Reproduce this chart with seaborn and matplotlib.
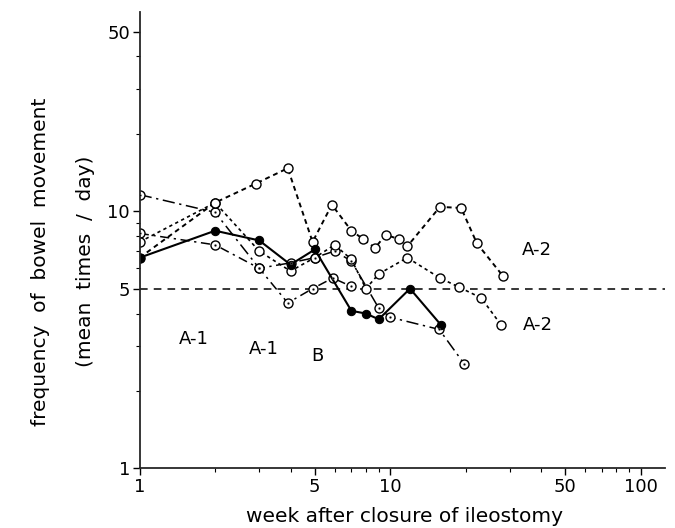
import matplotlib
matplotlib.use('Agg')
import matplotlib.pyplot as plt
import matplotlib.ticker as mticker
import numpy as np
import pandas as pd
import seaborn as sns

# weeks / frequency (log-log)
solid_x = [1, 2, 3, 4, 5, 7, 8, 9, 12, 16]
solid_y = [6.6, 8.4, 7.7, 6.2, 7.1, 4.1, 4.0, 3.8, 5.0, 3.6]

a2_top_x = [1, 2, 2.9, 3.9, 4.9, 5.85, 7, 7.8, 8.7, 9.6, 10.8, 11.7, 15.8, 19.2, 22.2, 28.2]
a2_top_y = [6.6, 10.8, 12.8, 14.7, 7.6, 10.6, 8.4, 7.8, 7.2, 8.1, 7.8, 7.3, 10.4, 10.3, 7.5, 5.6]

a2_low_x = [1, 2, 3, 4, 5, 6, 7, 8, 9, 11.7, 15.8, 18.9, 23.1, 27.8]
a2_low_y = [7.6, 10.8, 7.0, 5.85, 6.6, 7.4, 6.5, 5.0, 5.7, 6.6, 5.5, 5.06, 4.6, 3.6]

dd1_x = [1, 2, 3, 4, 5, 6, 7, 9, 10, 15.7, 19.8]
dd1_y = [11.6, 9.9, 6.0, 6.3, 6.6, 7.0, 6.4, 4.2, 3.87, 3.47, 2.54]

dd2_x = [1, 2, 3, 3.9, 4.9, 5.9, 7]
dd2_y = [8.2, 7.4, 6.0, 4.4, 5.0, 5.5, 5.1]

labels = ['A-1', 'A-1', 'B', 'A-2', 'A-2']
label_x = [1.64, 3.14, 5.1, 38.5, 39.0]
label_y = [3.18, 2.9, 2.73, 7.06, 3.6]

sns.set_style('ticks')
plt.rcParams['font.family'] = ['DejaVu Sans']
plt.rcParams['text.color'] = 'k'
plt.rcParams['xtick.color'] = 'k'
plt.rcParams['ytick.color'] = 'k'

fig = plt.figure(figsize=(6.75, 5.28), dpi=100)
ax = fig.add_axes([0.207, 0.113, 0.778, 0.864])

ax.set_xscale('log')
ax.set_yscale('log')

# reference line at 5 times / day
ax.axhline(5, color='k', lw=1.1, linestyle=(0, (5, 4)), zorder=1)

open_kw = dict(marker='o', markersize=6.5, markerfacecolor='white',
               markeredgecolor='k', markeredgewidth=1.0, color='k')

sns.lineplot(x=dd1_x, y=dd1_y, ax=ax, linestyle=(0, (8, 3, 1.5, 3)), lw=1.1, **open_kw)
sns.scatterplot(x=dd1_x, y=dd1_y, ax=ax, s=3, color='k', zorder=5)
sns.lineplot(x=dd2_x, y=dd2_y, ax=ax, linestyle=(0, (6, 3, 1.5, 3)), lw=1.1, **open_kw)
sns.scatterplot(x=dd2_x, y=dd2_y, ax=ax, s=3, color='k', zorder=5)
sns.lineplot(x=a2_top_x, y=a2_top_y, ax=ax, linestyle=(0, (2.5, 2)), lw=1.4, **open_kw)
sns.lineplot(x=a2_low_x, y=a2_low_y, ax=ax, linestyle=(0, (2, 2)), lw=1.2, **open_kw)
sns.lineplot(x=solid_x, y=solid_y, ax=ax, color='k', lw=1.5, marker='o',
             markersize=6, markerfacecolor='k', markeredgecolor='k')

for t, x, y in zip(labels, label_x, label_y):
    ax.text(x, y, t, fontsize=13, ha='center', va='center')

ax.set_xlim(1, 125)
ax.set_ylim(1, 59.5)

ax.xaxis.set_major_locator(mticker.FixedLocator([1, 5, 10, 50, 100]))
ax.xaxis.set_major_formatter(mticker.FixedFormatter(['1', '5', '10', '50', '100']))
ax.xaxis.set_minor_locator(mticker.LogLocator(base=10, subs=np.arange(2, 10)))
ax.xaxis.set_minor_formatter(mticker.NullFormatter())
ax.yaxis.set_major_locator(mticker.FixedLocator([1, 5, 10, 50]))
ax.yaxis.set_major_formatter(mticker.FixedFormatter(['1', '5', '10', '50']))
ax.yaxis.set_minor_locator(mticker.LogLocator(base=10, subs=np.arange(2, 10)))
ax.yaxis.set_minor_formatter(mticker.NullFormatter())
ax.tick_params(which='major', length=5, width=1, labelsize=13, pad=2)
ax.tick_params(which='minor', length=3, width=0.8)

sns.despine(ax=ax)
for s in ['left', 'bottom']:
    ax.spines[s].set_linewidth(1.3)

fig.text(0.6, 0.022, 'week after closure of ileostomy', fontsize=14.5,
         ha='center', va='center')
fig.text(0.06, 0.505, 'frequency  of  bowel  movement', fontsize=14.5,
         rotation=90, ha='center', va='center')
fig.text(0.126, 0.505, '(mean  times  /  day)', fontsize=14.5,
         rotation=90, ha='center', va='center')

fig.savefig('out.png', dpi=100)
